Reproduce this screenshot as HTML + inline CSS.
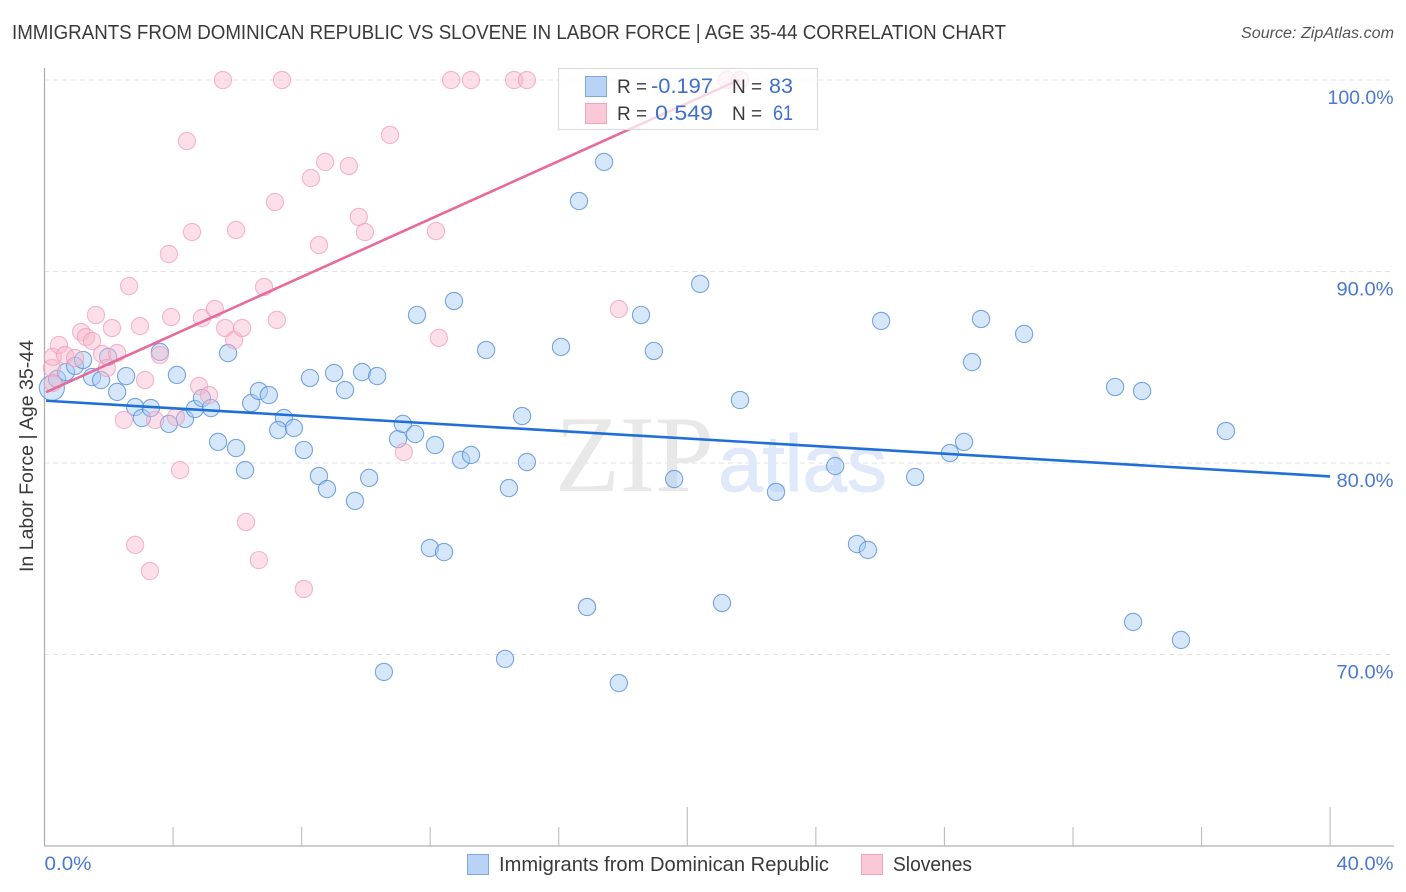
<!DOCTYPE html>
<html lang="en">
<head>
<meta charset="utf-8">
<title>Immigrants from Dominican Republic vs Slovene in Labor Force | Age 35-44 Correlation Chart</title>
<style>
html,body{margin:0;padding:0;background:#fff;width:1406px;height:892px;overflow:hidden}
svg{display:block;font-family:"Liberation Sans",sans-serif}
</style>
</head>
<body>
<svg id="chart" xmlns="http://www.w3.org/2000/svg" width="1406" height="892" viewBox="0 0 1406 892">
  <text x="12" y="39" font-size="20" fill="#3a3a3a" textLength="994" lengthAdjust="spacingAndGlyphs">IMMIGRANTS FROM DOMINICAN REPUBLIC VS SLOVENE IN LABOR FORCE | AGE 35-44 CORRELATION CHART</text>
  <text x="1241" y="38" font-size="15.5" font-style="italic" fill="#555" textLength="153" lengthAdjust="spacingAndGlyphs">Source: ZipAtlas.com</text>
  <g id="grid"></g>
  <g>
    <text x="555" y="491" font-family="'Liberation Serif',serif" font-size="109" fill="#e8e8e8" textLength="159" lengthAdjust="spacingAndGlyphs">ZIP</text>
    <text x="718" y="491" font-size="80" fill="#dfe9f9" stroke="#dfe9f9" stroke-width="1" textLength="169" lengthAdjust="spacingAndGlyphs">atlas</text>
  </g>
  <g id="axes"></g>
  <g id="points-blue"></g>
  <g id="points-pink"></g>
  <g id="trends"></g>
  <text transform="translate(33,572) rotate(-90)" font-size="19" fill="#3a3a3a" textLength="232" lengthAdjust="spacingAndGlyphs">In Labor Force | Age 35-44</text>
  <g>
    <rect x="558.5" y="68.5" width="259" height="61" fill="#fff" fill-opacity="0.72" stroke="#dcdcdc" stroke-width="1.2"/>
    <rect x="585.5" y="76.5" width="21" height="20" fill="#b8d3f6" stroke="#7ea6e0"/>
    <rect x="585.5" y="103.5" width="21" height="20" fill="#fbc8d8" stroke="#f0a5bf"/>
    <text x="617" y="93" font-size="19" fill="#3a3a3a">R =</text>
    <text x="651" y="93" font-size="21" fill="#3f6fce" textLength="62" lengthAdjust="spacingAndGlyphs">-0.197</text>
    <text x="732" y="93" font-size="19" fill="#3a3a3a">N =</text>
    <text x="769" y="93" font-size="21" fill="#3f6fce" textLength="24" lengthAdjust="spacingAndGlyphs">83</text>
    <text x="617" y="120" font-size="19" fill="#3a3a3a">R =</text>
    <text x="655" y="120" font-size="21" fill="#3f6fce" textLength="58" lengthAdjust="spacingAndGlyphs">0.549</text>
    <text x="732" y="120" font-size="19" fill="#3a3a3a">N =</text>
    <text x="773" y="120" font-size="21" fill="#3f6fce" textLength="20" lengthAdjust="spacingAndGlyphs">61</text>
  </g>
  <g>
    <rect x="467.5" y="854.5" width="21" height="20" fill="#b8d3f6" stroke="#7ea6e0"/>
    <text x="499" y="871" font-size="20" fill="#3a3a3a" textLength="330" lengthAdjust="spacingAndGlyphs">Immigrants from Dominican Republic</text>
    <rect x="861.5" y="854.5" width="21" height="20" fill="#fbc8d8" stroke="#f0a5bf"/>
    <text x="893" y="871" font-size="20" fill="#3a3a3a" textLength="79" lengthAdjust="spacingAndGlyphs">Slovenes</text>
  </g>
</svg>
<script>
const blueX = [0.23,0.39,0.67,0.95,1.20,1.48,1.76,1.98,2.26,2.54,2.82,3.03,3.31,3.87,4.37,4.12,3.59,4.68,4.90,5.18,5.40,5.96,6.24,5.71,6.43,6.67,6.98,7.45,7.27,7.76,8.07,8.26,8.54,8.79,9.01,9.35,9.66,9.88,10.10,10.35,10.56,11.00,11.15,11.53,11.59,11.99,12.15,12.43,12.74,12.96,13.27,13.74,14.33,14.45,14.86,15.01,16.07,16.63,16.88,17.41,17.87,18.56,18.96,19.59,20.40,21.08,21.64,22.76,24.60,25.28,25.62,26.03,27.09,28.17,28.61,28.86,29.14,30.48,33.31,33.87,34.15,35.36,36.76];
const blueY = [83.92,84.39,84.75,85.07,85.38,84.49,84.33,85.54,83.71,84.54,82.92,82.35,82.87,82.04,82.30,84.60,85.80,82.82,83.39,82.87,81.10,80.78,79.63,85.74,83.13,83.76,83.55,82.35,81.72,81.83,80.68,84.44,79.32,78.64,84.70,83.81,78.02,84.75,79.22,84.54,69.09,81.25,82.04,81.51,87.73,75.56,80.94,75.35,88.46,80.16,80.42,85.90,69.77,78.69,82.45,80.05,86.06,93.68,72.48,95.72,68.51,87.73,85.85,79.16,89.35,72.69,83.29,78.49,79.84,75.77,75.46,87.42,79.27,80.52,81.10,85.27,87.52,86.74,83.97,71.70,83.76,70.76,81.67];
const pinkX = [0.23,0.26,0.26,0.45,0.64,0.95,1.14,1.29,1.48,1.60,1.79,1.94,2.10,2.26,2.47,2.63,2.82,2.97,3.13,3.28,3.44,3.59,3.87,3.94,4.09,4.22,4.43,4.59,4.81,4.90,5.12,5.30,5.55,5.62,5.90,5.96,6.15,6.27,6.67,6.83,7.17,7.23,7.39,8.07,8.29,8.54,8.73,9.47,9.78,9.97,10.75,11.18,12.18,12.27,12.65,13.27,14.61,15.01,17.87,21.23,21.64];
const pinkY = [84.96,85.54,84.18,86.16,85.64,85.48,86.84,86.58,86.37,87.73,85.69,84.96,87.05,85.74,82.25,89.24,75.72,87.15,84.33,74.36,82.25,85.64,90.91,87.62,82.40,79.63,96.81,92.06,84.02,87.57,83.55,88.04,100,87.05,86.42,92.17,87.05,76.92,74.93,89.19,93.63,87.47,100,73.42,94.88,91.38,95.72,95.51,92.85,92.06,97.13,80.57,92.11,86.53,100,100,100,100,88.04,100,100];
const blueTrendX = [0.05,40];
const blueTrendY = [83.25,79.3];
const pinkTrendX = [0.05,21.6];
const pinkTrendY = [83.7,100];
const yTicks = [100,90,80,70];
const yTickLabels = ["100.0%","90.0%","80.0%","70.0%"];
const xTicks = [4,8,12,16,20,24,28,32,36,40];
const xMajorTicks = [20,40];
const xEndValues = [0,40];
const xEndLabels = ["0.0%","40.0%"];

const NS = "http://www.w3.org/2000/svg";
function xScale(v){ return 44.5 + v * 32.14; }
function yScale(v){ return 846 - (v - 60) * 19.15; }
function make(tag, attrs, parent){
  const el = document.createElementNS(NS, tag);
  for (const k in attrs) el.setAttribute(k, attrs[k]);
  parent.appendChild(el);
  return el;
}

const grid = document.getElementById("grid");
yTicks.forEach(function(v, i){
  const line = make("line", {x1:44, x2:1394, y1:yScale(v), y2:yScale(v), stroke:"#e2e2e2", "stroke-width":1, "stroke-dasharray":"5 4"}, grid);
  
  
  const label = make("text", {x:1393.5, y:yScale(v)+24, "text-anchor":"end", "font-size":19.5, fill:"#4a78d2", textLength: yTickLabels[i].length === 6 ? 66 : 57, lengthAdjust:"spacingAndGlyphs"}, grid);
  label.textContent = yTickLabels[i];
  
  
});

const axes = document.getElementById("axes");
const yAxis = make("line", {x1:44.5, x2:44.5, y1:68, y2:846, stroke:"#b0b0b0", "stroke-width":1.3}, axes);


const xAxis = make("line", {x1:44, x2:1394, y1:846, y2:846, stroke:"#b0b0b0", "stroke-width":1.3}, axes);


xTicks.forEach(function(v){
  const top = xMajorTicks.indexOf(v) >= 0 ? 807 : 827;
  const tick = make("line", {x1:xScale(v), x2:xScale(v), y1:top, y2:846, stroke:"#bdbdbd", "stroke-width":1.1}, axes);
  
  
});
xEndValues.forEach(function(v, i){
  const label = make("text", {x: i === 0 ? xScale(v) : 1393.5, y:870, "text-anchor": i === 0 ? "start" : "end", "font-size":19.5, fill:"#4a78d2", textLength: i === 0 ? 47 : 57, lengthAdjust:"spacingAndGlyphs"}, axes);
  label.textContent = xEndLabels[i];
  
  
});

const bluePoints = document.getElementById("points-blue");
blueX.forEach(function(v, i){
  const c = make("circle", {cx:xScale(v), cy:yScale(blueY[i]), r: i === 0 ? 12.5 : 8.6, fill:"#a6c9f4", "fill-opacity":0.45, stroke:"#5690dc", "stroke-opacity":0.8, "stroke-width":1.1}, bluePoints);
  
  
});
const pinkPoints = document.getElementById("points-pink");
pinkX.forEach(function(v, i){
  const c = make("circle", {cx:xScale(v), cy:yScale(pinkY[i]), r:8.6, fill:"#f9b8cd", "fill-opacity":0.45, stroke:"#f09ab6", "stroke-opacity":0.7, "stroke-width":1.1}, pinkPoints);
  
  
});

const trends = document.getElementById("trends");
const pinkLine = make("line", {x1:xScale(pinkTrendX[0]), y1:yScale(pinkTrendY[0]), x2:xScale(pinkTrendX[1]), y2:yScale(pinkTrendY[1]), stroke:"#e86a9a", "stroke-width":2.6}, trends);


const blueLine = make("line", {x1:xScale(blueTrendX[0]), y1:yScale(blueTrendY[0]), x2:xScale(blueTrendX[1]), y2:yScale(blueTrendY[1]), stroke:"#1f6fd6", "stroke-width":2.6}, trends);


</script>
</body>
</html>
